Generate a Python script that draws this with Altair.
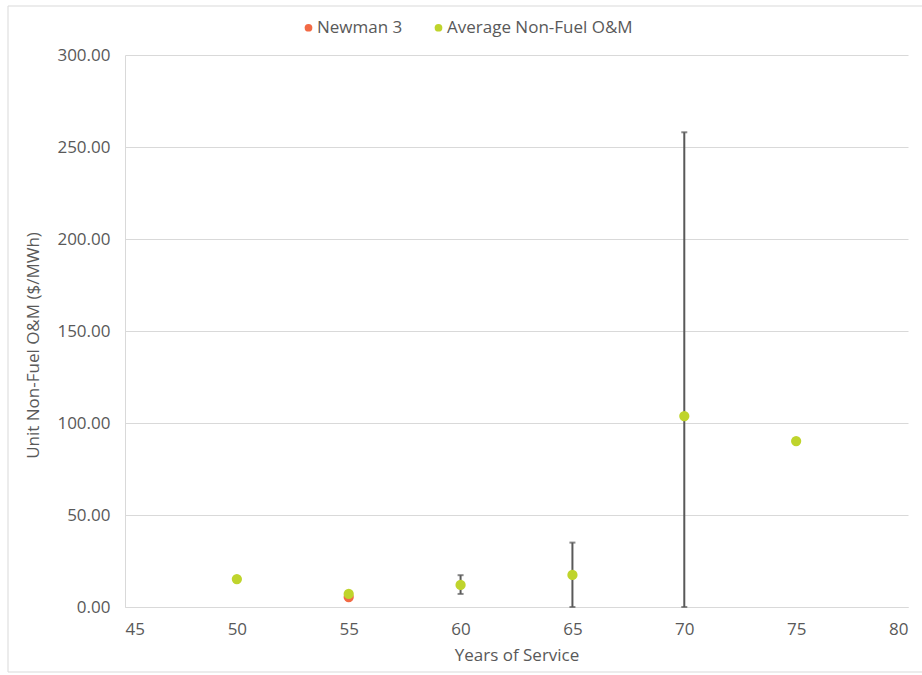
import altair as alt
import pandas as pd

# Average unit non-fuel O&M by years of service, with min/max range
years = [50, 55, 60, 65, 70, 75]
avg_om = [15.2, 7.1, 12.0, 17.4, 103.8, 90.2]
range_low = [None, None, 7.1, 0.0, 0.0, None]
range_high = [None, None, 17.3, 35.0, 258.0, None]

# Newman 3
newman_years = [55]
newman_om = [5.4]

series_names = ["Newman 3", "Average Non-Fuel O&M"]
series_colors = ["#F26A45", "#BFD42C"]

x_ticks = [45, 50, 55, 60, 65, 70, 75, 80]
y_ticks = [0, 50, 100, 150, 200, 250, 300]

FONT = "Open Sans"
FS = 17
TEXT = "#595959"
GRID = "#D9D9D9"

points = pd.DataFrame(
    {
        "years": newman_years + years,
        "om": newman_om + avg_om,
        "series": [series_names[0]] * len(newman_years) + [series_names[1]] * len(years),
        "order": list(range(len(newman_years) + len(years))),
    }
)

ranges = pd.DataFrame({"years": years, "low": range_low, "high": range_high}).dropna()

x_enc = alt.X(
    "years:Q",
    scale=alt.Scale(domain=[45, 80], nice=False, zero=False),
    axis=alt.Axis(
        title="Years of Service",
        values=x_ticks,
        grid=False,
        ticks=False,
        domainColor=GRID,
        labelPadding=14,
        titlePadding=10,
    ),
)

y_scale = alt.Scale(domain=[0, 300], nice=False)

rules = alt.Chart(ranges).mark_rule(color="#595959", strokeWidth=2).encode(
    x=x_enc,
    y=alt.Y("low:Q", scale=y_scale),
    y2="high:Q",
)

caps_low = alt.Chart(ranges).mark_tick(
    color="#595959", orient="horizontal", size=6, thickness=2
).encode(x="years:Q", y=alt.Y("low:Q", scale=y_scale))

caps_high = alt.Chart(ranges).mark_tick(
    color="#595959", orient="horizontal", size=6, thickness=2
).encode(x="years:Q", y=alt.Y("high:Q", scale=y_scale))

dots = alt.Chart(points).mark_circle(size=105, opacity=1).encode(
    x="years:Q",
    y=alt.Y(
        "om:Q",
        scale=y_scale,
        axis=alt.Axis(
            title="Unit Non-Fuel O&M ($/MWh)",
            values=y_ticks,
            format=".2f",
            ticks=False,
            gridColor=GRID,
            domainColor=GRID,
            labelPadding=15,
            titleX=-92,
            titleY=290,
            titleBaseline="middle",
        ),
    ),
    color=alt.Color(
        "series:N",
        scale=alt.Scale(domain=series_names, range=series_colors),
        legend=alt.Legend(
            title=None,
            orient="none",
            direction="horizontal",
            legendX=175,
            legendY=-36,
            symbolType="circle",
            symbolSize=60,
            labelOffset=0,
            labelLimit=0,
            columnPadding=27,
        ),
    ),
    order=alt.Order("order:Q"),
)

# light outer frame around the whole figure
frame = alt.Chart(pd.DataFrame({"k": [0]})).mark_rect(
    fill=None, stroke=GRID, strokeWidth=1
).encode(
    x=alt.value(-117), x2=alt.value(800), y=alt.value(-49), y2=alt.value(617)
)

chart = (
    alt.layer(frame, rules, caps_low, caps_high, dots)
    .properties(
        width=783,
        height=552,
        padding={"left": 125, "top": 55, "right": 14, "bottom": 68},
        autosize=alt.AutoSizeParams(type="none"),
        background="white",
    )
    .configure_view(stroke=None)
    .configure_axis(
        labelFont=FONT,
        titleFont=FONT,
        labelFontSize=FS,
        titleFontSize=FS,
        labelColor=TEXT,
        titleColor=TEXT,
        titleFontWeight="normal",
    )
    .configure_legend(labelFont=FONT, labelFontSize=FS, labelColor=TEXT)
)

chart.save("out.html", embed_options={"renderer": "svg", "actions": False})
